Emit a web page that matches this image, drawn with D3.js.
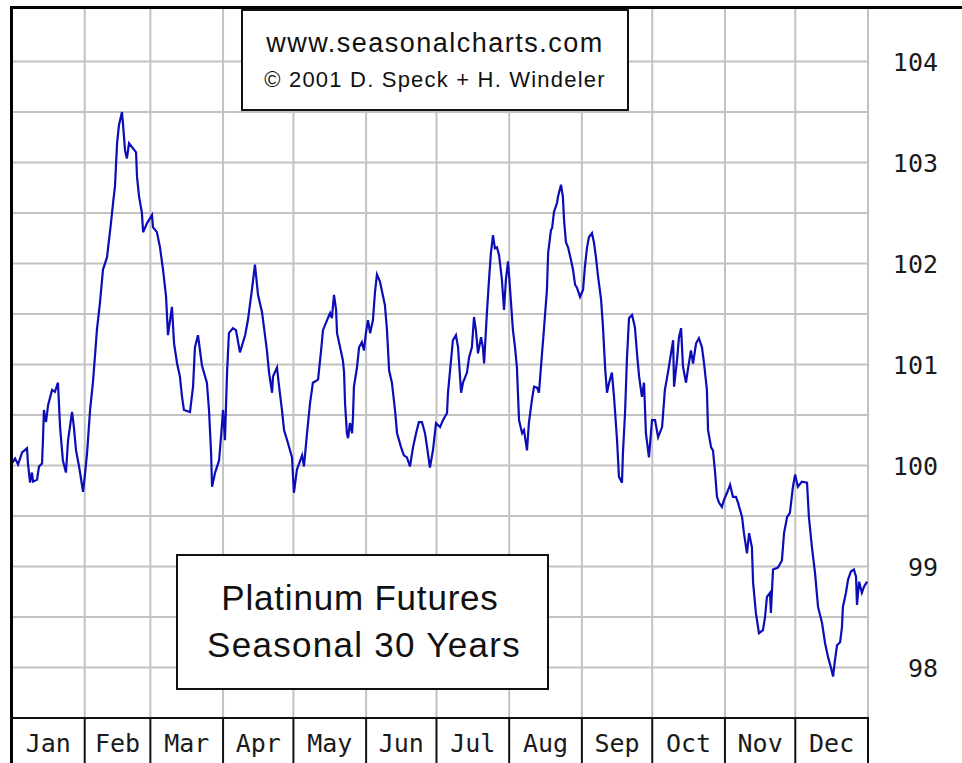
<!DOCTYPE html>
<html>
<head>
<meta charset="utf-8">
<script src="https://cdn.jsdelivr.net/npm/d3@7"></script>
<style>
  body { margin: 0; background: #fff; }
  svg { display: block; }
  .month-label, .y-label { font-family: "DejaVu Sans Mono", monospace; font-size: 25px; fill: #1a1a1a; }
  .box-text { font-family: "Liberation Sans", Arial, sans-serif; fill: #111; }
</style>
</head>
<body>
<svg width="962" height="763"></svg>
<script>
var months = ['Jan', 'Feb', 'Mar', 'Apr', 'May', 'Jun', 'Jul', 'Aug', 'Sep', 'Oct', 'Nov', 'Dec'];
var yTickValues = [98, 99, 100, 101, 102, 103, 104];

// day of year (0 = Jan 1) and the seasonal index
var dayOfYear = [
  0, 1.3, 2.6, 4.3, 6.4, 6.8, 7.7, 8.5, 9.0, 10.7, 11.5, 12.8, 13.2, 13.6, 14.5, 15.4, 17.1, 18.3, 19.6, 20.5,
  21.7, 23.0, 23.9, 25.6, 26.4, 27.3, 28.6, 30.3, 31.1, 32.0, 33.3, 34.5, 35.4, 36.2, 37.5, 38.8, 40.5, 42.2, 43.1, 43.9,
  44.8, 45.6, 46.9, 47.3, 48.2, 49.0, 49.9, 51.6, 52.9, 53.3, 54.2, 55.4, 55.9, 57.6, 59.7, 60.1, 61.8, 63.1, 64.4, 65.7,
  66.5, 68.2, 69.1, 70.4, 71.6, 72.5, 73.3, 75.9, 77.2, 78.0, 79.3, 81.0, 83.1, 84.0, 84.9, 85.3, 86.6, 88.3, 89.1, 90.0,
  90.8, 91.7, 92.5, 94.2, 95.5, 97.2, 99.4, 100.6, 102.3, 103.6, 104.9, 106.6, 108.7, 109.6, 110.9, 111.3, 113.0, 113.8, 115.1, 116.0,
  117.7, 119.4, 120.2, 121.5, 123.7, 124.5, 125.8, 127.1, 128.3, 130.5, 131.8, 132.6, 135.6, 136.4, 137.3, 138.2, 138.6, 139.9, 141.1, 141.6,
  142.0, 142.8, 143.3, 144.1, 145.0, 145.4, 145.8, 147.1, 148.0, 149.2, 150.1, 150.9, 151.8, 152.7, 153.9, 154.8, 155.6, 156.9, 157.8, 159.0,
  159.9, 160.8, 162.0, 163.3, 164.2, 165.9, 167.1, 168.4, 169.7, 171.0, 172.3, 173.5, 174.8, 176.1, 177.0, 178.2, 179.5, 180.8, 182.5, 183.8,
  185.5, 185.9, 187.2, 188.0, 189.3, 190.2, 191.5, 192.3, 194.0, 194.9, 196.1, 197.0, 197.8, 198.7, 200.0, 200.8, 201.3, 202.5, 203.4, 204.2,
  205.1, 205.9, 206.8, 207.7, 208.9, 209.8, 210.6, 211.5, 212.3, 213.6, 214.5, 215.3, 216.2, 217.5, 218.3, 219.6, 220.4, 221.7, 222.6, 223.9,
  224.7, 226.0, 226.8, 228.1, 228.6, 229.8, 230.3, 231.1, 232.4, 232.8, 234.1, 234.9, 235.4, 236.2, 237.1, 238.4, 239.2, 240.1, 240.9, 242.2,
  243.5, 244.3, 245.2, 246.0, 247.3, 248.2, 249.0, 249.9, 251.2, 252.0, 252.9, 253.7, 254.6, 255.8, 256.7, 258.0, 258.8, 260.1, 260.5, 261.4,
  262.2, 263.1, 264.4, 265.6, 266.5, 267.4, 268.6, 269.5, 270.3, 271.6, 272.9, 274.2, 275.5, 277.2, 278.4, 279.7, 281.0, 281.9, 282.3, 283.6,
  284.4, 285.3, 286.1, 287.4, 288.2, 289.5, 290.4, 291.7, 292.9, 294.2, 295.1, 296.3, 296.8, 298.1, 298.9, 299.8, 300.6, 301.5, 302.7, 303.6,
  304.9, 306.2, 307.4, 308.7, 309.6, 311.3, 312.1, 313.4, 314.3, 315.5, 316.0, 317.2, 318.5, 320.2, 321.1, 321.9, 323.2, 323.6, 324.5, 326.6,
  328.3, 329.2, 330.5, 331.7, 333.0, 333.9, 335.1, 336.8, 339.0, 339.8, 341.1, 342.4, 343.7, 345.4, 346.7, 348.0, 349.2, 350.1, 350.9, 351.8,
  353.1, 353.9, 354.3, 355.6, 356.5, 357.7, 359.0, 359.9, 360.3, 361.2, 362.4, 363.3, 364.6
];
var seasonalIndex = [
  100.02, 100.07, 100.01, 100.13, 100.17, 100.02, 99.83, 99.93, 99.84, 99.86, 99.99, 100.02, 100.25, 100.55, 100.43, 100.60, 100.75, 100.73, 100.82, 100.38,
  100.05, 99.93, 100.25, 100.53, 100.38, 100.15, 99.99, 99.74, 99.91, 100.12, 100.55, 100.82, 101.09, 101.34, 101.61, 101.94, 102.06, 102.40, 102.60, 102.76,
  103.19, 103.37, 103.50, 103.39, 103.12, 103.04, 103.19, 103.14, 103.10, 102.86, 102.66, 102.50, 102.31, 102.40, 102.48, 102.36, 102.31, 102.16, 101.94, 101.67,
  101.29, 101.57, 101.21, 101.01, 100.88, 100.68, 100.55, 100.53, 100.78, 101.17, 101.29, 100.99, 100.82, 100.55, 100.12, 99.79, 99.93, 100.05, 100.28, 100.55,
  100.25, 100.92, 101.31, 101.36, 101.34, 101.12, 101.29, 101.44, 101.74, 101.99, 101.69, 101.52, 101.14, 100.92, 100.72, 100.88, 100.97, 100.80, 100.55, 100.35,
  100.22, 100.08, 99.73, 99.96, 100.10, 99.99, 100.32, 100.62, 100.82, 100.85, 101.14, 101.34, 101.51, 101.46, 101.69, 101.54, 101.31, 101.17, 101.04, 100.92,
  100.62, 100.32, 100.27, 100.42, 100.32, 100.48, 100.78, 100.97, 101.17, 101.22, 101.14, 101.31, 101.44, 101.31, 101.44, 101.72, 101.89, 101.82, 101.72, 101.59,
  101.34, 100.94, 100.82, 100.55, 100.32, 100.18, 100.10, 100.08, 99.99, 100.18, 100.32, 100.43, 100.43, 100.32, 100.18, 99.98, 100.15, 100.42, 100.38, 100.45,
  100.52, 100.72, 101.04, 101.24, 101.29, 101.17, 100.72, 100.82, 100.92, 101.07, 101.17, 101.47, 101.34, 101.11, 101.27, 101.17, 101.01, 101.51, 101.84, 102.10,
  102.28, 102.15, 102.16, 102.08, 101.84, 101.54, 101.84, 102.02, 101.77, 101.34, 101.17, 100.97, 100.45, 100.32, 100.35, 100.15, 100.42, 100.65, 100.78, 100.77,
  100.72, 101.11, 101.34, 101.74, 102.10, 102.33, 102.35, 102.51, 102.60, 102.66, 102.78, 102.66, 102.43, 102.21, 102.16, 102.03, 101.94, 101.79, 101.76, 101.67,
  101.74, 101.97, 102.16, 102.26, 102.30, 102.20, 102.06, 101.87, 101.64, 101.37, 100.97, 100.72, 100.82, 100.92, 100.68, 100.25, 99.89, 99.83, 100.12, 100.52,
  101.05, 101.46, 101.49, 101.37, 101.11, 100.88, 100.68, 100.82, 100.32, 100.08, 100.45, 100.45, 100.28, 100.38, 100.75, 100.92, 101.11, 101.24, 100.78, 101.05,
  101.27, 101.36, 100.98, 100.82, 100.95, 101.14, 101.01, 101.21, 101.26, 101.17, 101.01, 100.75, 100.35, 100.18, 100.15, 99.93, 99.69, 99.63, 99.59, 99.66,
  99.73, 99.81, 99.69, 99.69, 99.63, 99.49, 99.33, 99.13, 99.33, 99.19, 98.84, 98.54, 98.34, 98.37, 98.50, 98.70, 98.74, 98.54, 98.97, 98.99,
  99.06, 99.33, 99.49, 99.53, 99.79, 99.91, 99.79, 99.84, 99.83, 99.49, 99.19, 98.94, 98.60, 98.44, 98.24, 98.10, 98.00, 97.91, 98.07, 98.22,
  98.25, 98.40, 98.60, 98.74, 98.87, 98.95, 98.97, 98.90, 98.62, 98.85, 98.74, 98.80, 98.85
];

var svg = d3.select('svg');
var plotLeft = 12, plotRight = 868, plotTop = 10, plotBottom = 718, bandBottom = 763;
var yearStart = Date.UTC(2001, 0, 1);

var x = d3.scaleUtc()
  .domain([new Date(yearStart), new Date(Date.UTC(2002, 0, 1))])
  .range([plotLeft, plotRight]);
var y = d3.scaleLinear().domain([97.5, 104.5]).range([718, 11]);

var monthStarts = d3.utcMonths(new Date(yearStart), new Date(Date.UTC(2002, 0, 2)));

// grid
var gridG = svg.append('g').attr('class', 'grid');
gridG.selectAll('line.h')
  .data(y.ticks(14).filter(function(d) { return d >= 98 && d <= 104; }))
  .enter().append('line')
  .attr('x1', plotLeft).attr('x2', plotRight)
  .attr('y1', function(d) { return y(d); })
  .attr('y2', function(d) { return y(d); })
  .attr('stroke', '#c2c2c2').attr('stroke-width', 2);
gridG.selectAll('line.v')
  .data(monthStarts.slice(1))
  .enter().append('line')
  .attr('x1', function(d) { return x(d); })
  .attr('x2', function(d) { return x(d); })
  .attr('y1', 6).attr('y2', plotBottom)
  .attr('stroke', '#c2c2c2').attr('stroke-width', 2);

// seasonal line
var points = dayOfYear.map(function(d, i) {
  return { date: new Date(yearStart + d * 864e5), value: seasonalIndex[i] };
});
var line = d3.line()
  .x(function(d) { return x(d.date); })
  .y(function(d) { return y(d.value); });
svg.append('path')
  .datum(points)
  .attr('d', line)
  .attr('fill', 'none')
  .attr('stroke', '#0c0cb8')
  .attr('stroke-width', 2.2)
  .attr('stroke-linejoin', 'miter');

// text boxes
var topBox = svg.append('g');
topBox.append('rect')
  .attr('x', 242).attr('y', 10).attr('width', 386).attr('height', 100)
  .attr('fill', '#fff').attr('stroke', '#111').attr('stroke-width', 2);
topBox.append('text').attr('class', 'box-text')
  .attr('x', 435).attr('y', 52).attr('text-anchor', 'middle')
  .style('font-size', '27px').style('letter-spacing', '1.5px')
  .text('www.seasonalcharts.com');
topBox.append('text').attr('class', 'box-text')
  .attr('x', 435).attr('y', 87).attr('text-anchor', 'middle')
  .style('font-size', '22px').style('letter-spacing', '1.2px')
  .text('\u00A9 2001 D. Speck + H. Windeler');

var titleBox = svg.append('g');
titleBox.append('rect')
  .attr('x', 177).attr('y', 555).attr('width', 371).attr('height', 134)
  .attr('fill', '#fff').attr('stroke', '#111').attr('stroke-width', 2);
titleBox.append('text').attr('class', 'box-text')
  .attr('x', 360).attr('y', 610).attr('text-anchor', 'middle')
  .style('font-size', '35px').style('letter-spacing', '0.8px')
  .text('Platinum Futures');
titleBox.append('text').attr('class', 'box-text')
  .attr('x', 364).attr('y', 657).attr('text-anchor', 'middle')
  .style('font-size', '35px').style('letter-spacing', '1.3px')
  .text('Seasonal 30 Years');

// frame
svg.append('line').attr('x1', 10).attr('x2', 962).attr('y1', 7.5).attr('y2', 7.5)
  .attr('stroke', '#000').attr('stroke-width', 3);
svg.append('line').attr('x1', 11.5).attr('x2', 11.5).attr('y1', 6).attr('y2', bandBottom)
  .attr('stroke', '#000').attr('stroke-width', 3);
svg.append('line').attr('x1', 10).attr('x2', plotRight + 1).attr('y1', plotBottom).attr('y2', plotBottom)
  .attr('stroke', '#111').attr('stroke-width', 2);

// month band
var bandG = svg.append('g');
bandG.selectAll('line')
  .data(monthStarts.slice(1))
  .enter().append('line')
  .attr('x1', function(d) { return x(d); })
  .attr('x2', function(d) { return x(d); })
  .attr('y1', plotBottom).attr('y2', bandBottom)
  .attr('stroke', '#111').attr('stroke-width', 2);
bandG.selectAll('text')
  .data(monthStarts.slice(0, 12))
  .enter().append('text')
  .attr('class', 'month-label')
  .attr('x', function(d) { return (x(d) + x(d3.utcMonth.offset(d, 1))) / 2; })
  .attr('y', 752)
  .attr('text-anchor', 'middle')
  .text(function(d, i) { return months[i]; });

// right value axis
var yAxis = d3.axisRight(y)
  .tickValues(yTickValues)
  .tickFormat(d3.format('d'))
  .tickSize(0)
  .tickPadding(0);
var axisG = svg.append('g').attr('transform', 'translate(938,0)').call(yAxis);
axisG.select('.domain').remove();
axisG.selectAll('text')
  .attr('class', 'y-label')
  .attr('text-anchor', 'end')
  .attr('dy', '0.36em')
  .attr('fill', null);
</script>
</body>
</html>
